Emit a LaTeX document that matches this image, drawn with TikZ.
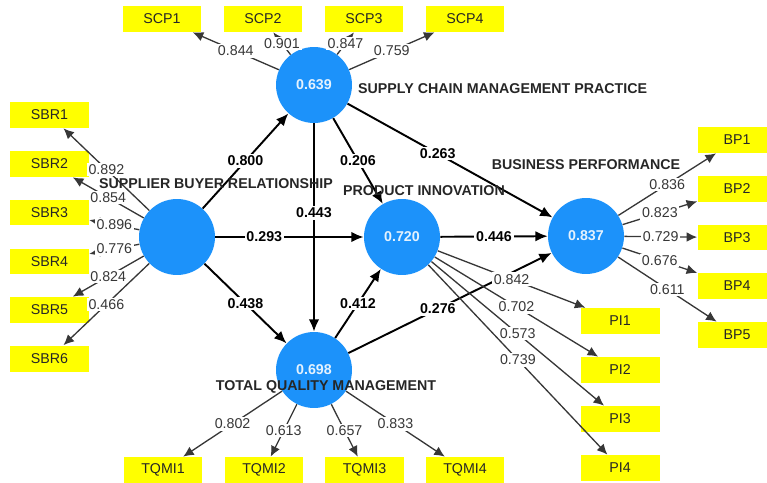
\documentclass[tikz,border=0pt]{standalone}
\usepackage{fontspec}
\setmainfont{Liberation Sans}
\usetikzlibrary{arrows.meta}
\definecolor{bleu}{RGB}{28,146,250}
\definecolor{jaune}{RGB}{255,255,0}
\definecolor{gris}{RGB}{55,55,55}
\begin{document}
\begin{tikzpicture}[x=0.02cm, y=-0.02cm, font=\fontsize{8.1}{9.5}\selectfont]
\tikzstyle{latente} = [circle, fill=bleu, minimum size=1.52cm, inner sep=0pt, text=white!88!bleu, font=\fontsize{8.1}{9.5}\selectfont\bfseries]
\tikzstyle{indicateur} = [rectangle, fill=jaune, minimum width=1.58cm, minimum height=0.52cm, inner sep=0pt, text=black!85]
\tikzstyle{titre} = [text=black!85, font=\fontsize{8.1}{9.5}\selectfont\bfseries]
\tikzstyle{chemin} = [line width=1.1pt, -{Latex[length=7pt, width=6pt]}]
\tikzstyle{charge} = [line width=0.75pt, draw=gris, -{Latex[length=6pt, width=5.5pt]}]
\tikzstyle{poids} = [midway, fill=white, inner sep=1pt, font=\fontsize{8.1}{9.5}\selectfont\bfseries]
\tikzstyle{etiquette} = [midway, fill=white, inner sep=1pt, text=gris]
\useasboundingbox (0,0) rectangle (767,483);
% variables latentes
\node[latente] (SCP) at (314,85) {0.639};
\node[latente] (SBR) at (177,237) {};
\node[latente] (PI) at (402,237) {0.720};
\node[latente] (BP) at (586,236) {0.837};
\node[latente] (TQM) at (314,370) {0.698};
% indicateurs
\node[indicateur] (SCP1) at (162,19) {SCP1};
\node[indicateur] (SCP2) at (263,19) {SCP2};
\node[indicateur] (SCP3) at (364,19) {SCP3};
\node[indicateur] (SCP4) at (465,19) {SCP4};
\node[indicateur] (SBR1) at (49.5,115) {SBR1};
\node[indicateur] (SBR2) at (49.5,164) {SBR2};
\node[indicateur] (SBR3) at (49.5,212.5) {SBR3};
\node[indicateur] (SBR4) at (49.5,261.5) {SBR4};
\node[indicateur] (SBR5) at (49.5,310) {SBR5};
\node[indicateur] (SBR6) at (49.5,358.5) {SBR6};
\node[indicateur] (BP1) at (737,140) {BP1};
\node[indicateur] (BP2) at (737,189) {BP2};
\node[indicateur] (BP3) at (737,237.5) {BP3};
\node[indicateur] (BP4) at (737,286) {BP4};
\node[indicateur] (BP5) at (737,335) {BP5};
\node[indicateur] (PI1) at (620,321) {PI1};
\node[indicateur] (PI2) at (620,370) {PI2};
\node[indicateur] (PI3) at (620,419) {PI3};
\node[indicateur] (PI4) at (620,468) {PI4};
\node[indicateur] (TQMI1) at (163,470) {TQMI1};
\node[indicateur] (TQMI2) at (264,470) {TQMI2};
\node[indicateur] (TQMI3) at (364.5,470) {TQMI3};
\node[indicateur] (TQMI4) at (465,470) {TQMI4};
% modele structurel
\draw[chemin] (SBR) -- (SCP) node[poids]{0.800};
\draw[chemin] (SBR) -- (PI) node[poids, pos=0.33]{0.293};
\draw[chemin] (SBR) -- (TQM) node[poids]{0.438};
\draw[chemin] (SCP) -- (TQM) node[poids, pos=0.43]{0.443};
\draw[chemin] (SCP) -- (PI) node[poids]{0.206};
\draw[chemin] (SCP) -- (BP) node[poids, pos=0.44]{0.263};
\draw[chemin] (TQM) -- (PI) node[poids]{0.412};
\draw[chemin] (TQM) -- (BP) node[poids, pos=0.44]{0.276};
\draw[chemin] (PI) -- (BP) node[poids]{0.446};
% modele de mesure
\draw[charge] (SCP) -- (SCP1) node[etiquette]{0.844};
\draw[charge] (SCP) -- (SCP2) node[etiquette]{0.901};
\draw[charge] (SCP) -- (SCP3) node[etiquette]{0.847};
\draw[charge] (SCP) -- (SCP4) node[etiquette]{0.759};
\draw[charge] (SBR) -- (SBR1) node[etiquette]{0.892};
\draw[charge] (SBR) -- (SBR2) node[etiquette]{0.854};
\draw[charge] (SBR) -- (SBR3) node[etiquette]{0.896};
\draw[charge] (SBR) -- (SBR4) node[etiquette]{0.776};
\draw[charge] (SBR) -- (SBR5) node[etiquette]{0.824};
\draw[charge] (SBR) -- (SBR6) node[etiquette]{0.466};
\draw[charge] (BP) -- (BP1) node[etiquette]{0.836};
\draw[charge] (BP) -- (BP2) node[etiquette]{0.823};
\draw[charge] (BP) -- (BP3) node[etiquette]{0.729};
\draw[charge] (BP) -- (BP4) node[etiquette]{0.676};
\draw[charge] (BP) -- (BP5) node[etiquette]{0.611};
\draw[charge] (PI) -- (PI1) node[etiquette]{0.842};
\draw[charge] (PI) -- (PI2) node[etiquette]{0.702};
\draw[charge] (PI) -- (PI3) node[etiquette]{0.573};
\draw[charge] (PI) -- (PI4) node[etiquette]{0.739};
\draw[charge] (TQM) -- (TQMI1) node[etiquette]{0.802};
\draw[charge] (TQM) -- (TQMI2) node[etiquette]{0.613};
\draw[charge] (TQM) -- (TQMI3) node[etiquette]{0.657};
\draw[charge] (TQM) -- (TQMI4) node[etiquette]{0.833};
% noms des construits
\node[titre, anchor=west] (nSCP) at (352,89) {SUPPLY CHAIN MANAGEMENT PRACTICE};
\node[titre] (nSBR) at (216,184) {SUPPLIER BUYER RELATIONSHIP};
\node[titre] (nPI) at (424,191) {PRODUCT INNOVATION};
\node[titre] (nBP) at (586,165) {BUSINESS PERFORMANCE};
\node[titre] (nTQM) at (326,387) {TOTAL QUALITY MANAGEMENT};
\end{tikzpicture}
\end{document}
